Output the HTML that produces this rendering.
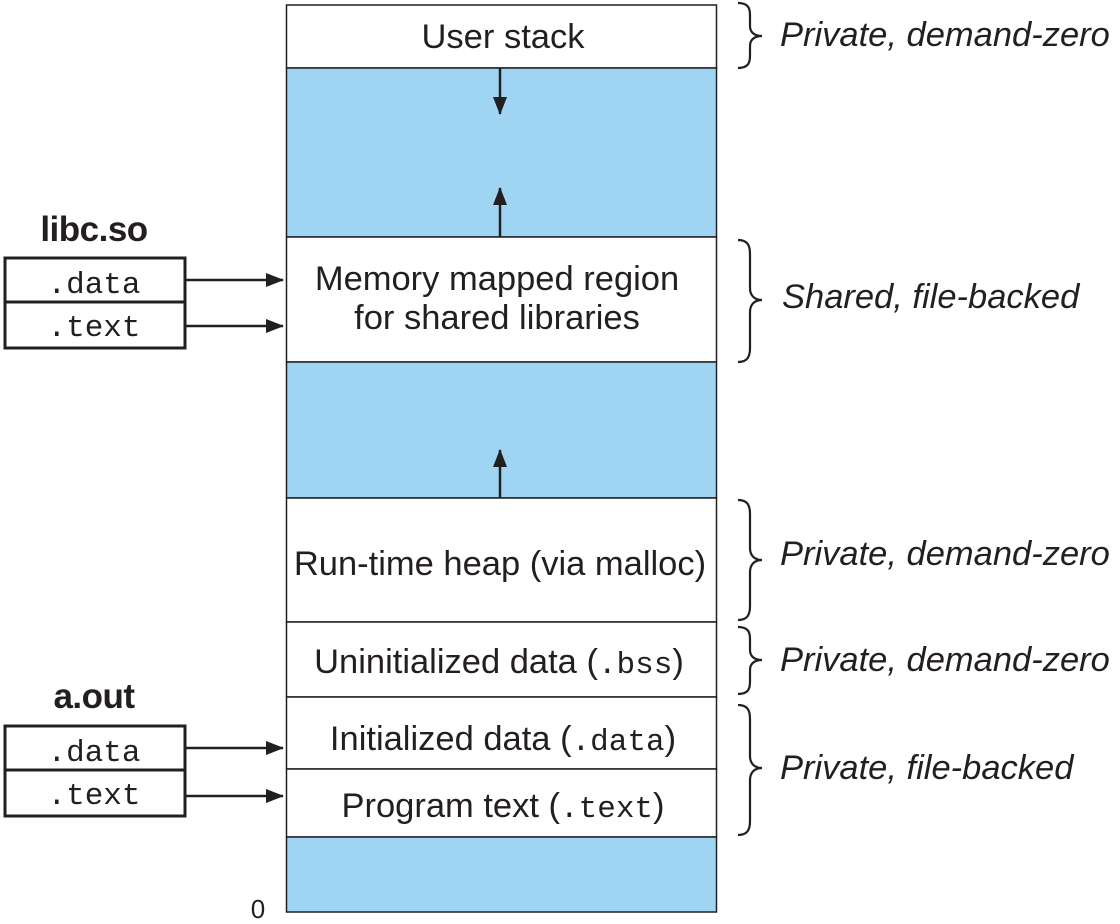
<!DOCTYPE html>
<html><head><meta charset="utf-8"><style>
html,body{margin:0;padding:0;background:#fff;}
svg{display:block}
.t{font-family:"Liberation Sans",sans-serif;font-size:34.5px;fill:#231f20;}
.m{font-family:"Liberation Mono",monospace;font-size:31px;}
.i{font-family:"Liberation Sans",sans-serif;font-style:italic;font-size:34.5px;fill:#231f20;}
.b{font-family:"Liberation Sans",sans-serif;font-weight:bold;font-size:35px;fill:#231f20;}
</style></head><body>
<svg width="1120" height="924" viewBox="0 0 1120 924">
<defs>
<marker id="h" markerWidth="18" markerHeight="14" refX="17" refY="7" orient="auto" markerUnits="userSpaceOnUse" viewBox="0 0 18 14"><path d="M0,0 L18,7 L0,14 z" fill="#231f20"/></marker></defs>
<g stroke="#231f20" stroke-width="1.5">
<rect x="286.5" y="5" width="430" height="63" fill="#fff"/>
<rect x="286.5" y="68" width="430" height="169" fill="#9fd5f3"/>
<rect x="286.5" y="237" width="430" height="125" fill="#fff"/>
<rect x="286.5" y="362" width="430" height="136" fill="#9fd5f3"/>
<rect x="286.5" y="498" width="430" height="124" fill="#fff"/>
<rect x="286.5" y="622" width="430" height="75" fill="#fff"/>
<rect x="286.5" y="697" width="430" height="72" fill="#fff"/>
<rect x="286.5" y="769" width="430" height="68" fill="#fff"/>
<rect x="286.5" y="837" width="430" height="75" fill="#9fd5f3"/>
</g>
<g stroke="#231f20" stroke-width="2.5" fill="none">
<line x1="500" y1="68" x2="500" y2="114" marker-end="url(#h)"/>
<line x1="500" y1="237" x2="500" y2="188" marker-end="url(#h)"/>
<line x1="500" y1="498" x2="500" y2="450" marker-end="url(#h)"/>
<line x1="186" y1="280" x2="283" y2="280" marker-end="url(#h)"/>
<line x1="186" y1="326" x2="283" y2="326" marker-end="url(#h)"/>
<line x1="186" y1="748" x2="283" y2="748" marker-end="url(#h)"/>
<line x1="186" y1="796" x2="283" y2="796" marker-end="url(#h)"/>
</g>
<g stroke="#231f20" stroke-width="3" fill="#fff">
<rect x="5" y="258" width="180" height="44"/><rect x="5" y="302" width="180" height="46"/>
<rect x="5" y="726" width="180" height="44"/><rect x="5" y="770" width="180" height="46"/>
</g>
<g stroke="#231f20" stroke-width="2.2" fill="none">
<path d="M738,3 C748,3 750,8 750,15 L750,26 C750,32 754,36 762,36 C754,36 750,40 750,46 L750,56 C750,63 748,68 738,68"/>
<path d="M738,240 C748,240 750,246 750,254 L750,288 C750,295 754,300 762,300 C754,300 750,305 750,312 L750,348 C750,356 748,362 738,362"/>
<path d="M738,500 C748,500 750,506 750,514 L750,548 C750,555 754,560 762,560 C754,560 750,565 750,572 L750,606 C750,614 748,620 738,620"/>
<path d="M738,627 C748,627 750,632 750,639 L750,650 C750,656 754,660 762,660 C754,660 750,664 750,670 L750,682 C750,689 748,694 738,694"/>
<path d="M738,705 C748,705 750,711 750,719 L750,756 C750,763 754,768 762,768 C754,768 750,773 750,780 L750,821 C750,829 748,835 738,835"/>
</g>
<text class="t" x="503" y="48" text-anchor="middle">User stack</text>
<text class="t" x="497" y="290" text-anchor="middle">Memory mapped region</text>
<text class="t" x="497" y="329" text-anchor="middle">for shared libraries</text>
<text class="t" x="500" y="575" text-anchor="middle">Run-time heap (via malloc)</text>
<text class="t" x="499" y="673" text-anchor="middle">Uninitialized data (<tspan class="m">.bss</tspan>)</text>
<text class="t" x="503" y="750" text-anchor="middle">Initialized data (<tspan class="m">.data</tspan>)</text>
<text class="t" x="503" y="817" text-anchor="middle">Program text (<tspan class="m">.text</tspan>)</text>
<text class="i" x="780" y="46">Private, demand-zero</text>
<text class="i" x="782" y="308">Shared, file-backed</text>
<text class="i" x="780" y="565">Private, demand-zero</text>
<text class="i" x="780" y="671">Private, demand-zero</text>
<text class="i" x="780" y="779">Private, file-backed</text>
<text class="b" x="94" y="241" text-anchor="middle" style="letter-spacing:-0.5px">libc.so</text>
<text class="b" x="94" y="708" text-anchor="middle" style="letter-spacing:-0.5px">a.out</text>
<text class="m" x="94" y="293" text-anchor="middle" fill="#231f20">.data</text>
<text class="m" x="94" y="336" text-anchor="middle" fill="#231f20">.text</text>
<text class="m" x="94" y="761" text-anchor="middle" fill="#231f20">.data</text>
<text class="m" x="94" y="804" text-anchor="middle" fill="#231f20">.text</text>
<text class="t" x="258" y="918" text-anchor="middle" style="font-size:26px">0</text>
</svg>
</body></html>
